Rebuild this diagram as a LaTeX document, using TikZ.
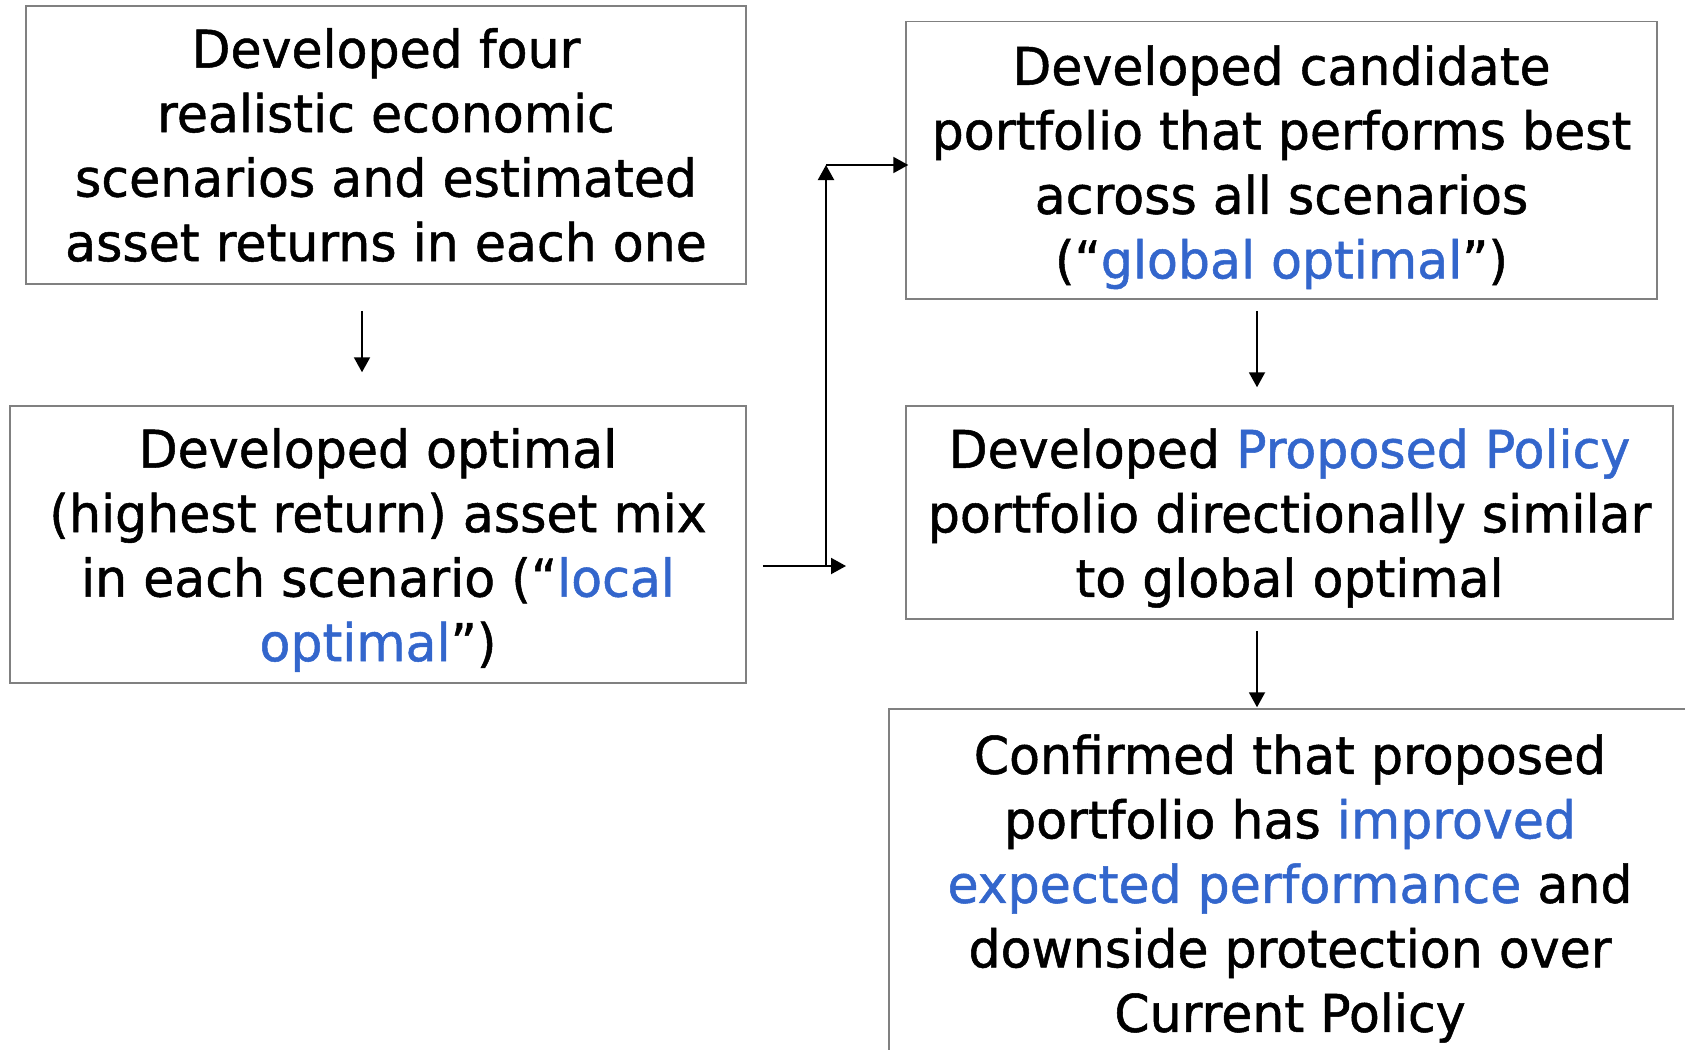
\documentclass[tikz,border=0pt]{standalone}
\usepackage{fontspec}
\setmainfont[FakeStretch=0.972,FakeBold=1]{DejaVu Sans}
\usetikzlibrary{arrows.meta,calc}
\definecolor{hl}{RGB}{51,102,204}
\definecolor{boxgray}{RGB}{128,128,128}
\begin{document}
\begin{tikzpicture}[x=1pt,y=-1pt,
  box/.style={draw=boxgray,line width=1.5pt,rectangle,inner sep=0pt},
  txt/.style={inner sep=0pt,align=center,font=\fontsize{52}{64.5}\selectfont},
  arr/.style={draw=black,line width=2pt,-{Triangle[length=15pt,width=16pt]}}]
\useasboundingbox (0,0) rectangle (1685,1049);
\clip (0,0) rectangle (1685,1049);
% boxes
\node[box,minimum width=720pt,minimum height=278pt] (b1) at (386,145) {};
\node[box,minimum width=736pt,minimum height=277pt] (b2) at (378,544.5) {};
\node[box,minimum width=751pt,minimum height=277.5pt] (b3) at (1281.5,160.25) {};
\node[box,minimum width=767pt,minimum height=213pt] (b4) at (1289.5,512.5) {};
\node[box,minimum width=802pt,minimum height=348pt] (b5) at (1290,883) {};
% texts
\node[txt] (t1) at (b1.center)
  {Developed four\\realistic economic\\scenarios and estimated\\asset returns in each one};
\node[txt] (t2) at ([yshift=-5.5pt]b2.center)
  {Developed optimal\\(highest return) asset mix\\in each scenario (“\textcolor{hl}{local}\\\textcolor{hl}{optimal}”)};
\node[txt] (t3) at ([yshift=-7pt]b3.center)
  {Developed candidate\\portfolio that performs best\\across all scenarios\\(“\textcolor{hl}{global optimal}”)};
\node[txt] (t4) at ([yshift=-5.5pt]b4.center)
  {Developed \textcolor{hl}{Proposed Policy}\\portfolio directionally similar\\to global optimal};
\node[txt] (t5) at ([yshift=-5.5pt]b5.center)
  {Confirmed that proposed\\portfolio has \textcolor{hl}{improved}\\\textcolor{hl}{expected performance} and\\downside protection over\\Current Policy};
% vertical arrows
\draw[arr] ([xshift=-24pt,yshift=-26pt]b1.south) -- ([xshift=-16pt,yshift=33pt]b2.north);
\draw[arr] ([xshift=-24.5pt,yshift=-11pt]b3.south) -- ([xshift=-32.5pt,yshift=18pt]b4.north);
\draw[arr] ([xshift=-32.5pt,yshift=-11pt]b4.south) -- ([xshift=-33pt,yshift=1pt]b5.north);
% connector from b2 to b3
\coordinate (j) at (826,566);
\coordinate (k) at (826,165);
\draw[arr] ([xshift=16pt,yshift=-21.5pt]b2.east) -- ([xshift=20pt]j);
\draw[arr] (j) -- (k);
\draw[arr] (k) -- ([xshift=3pt]k -| b3.west);
\end{tikzpicture}
\end{document}
